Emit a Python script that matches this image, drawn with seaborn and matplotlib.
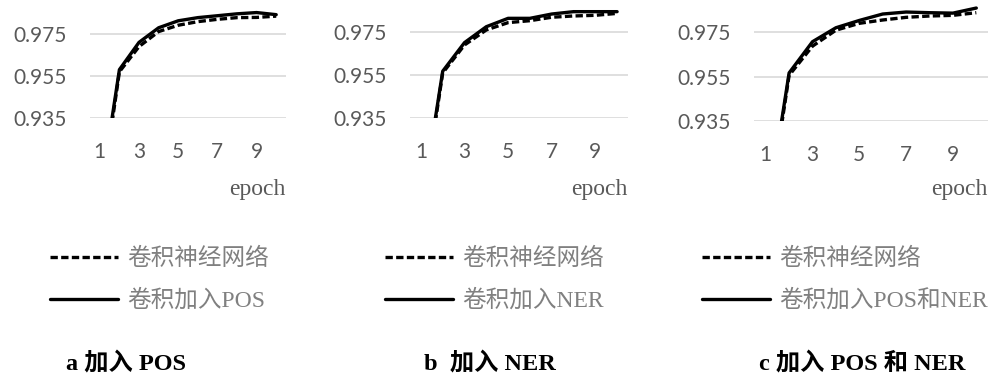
import matplotlib
matplotlib.use("Agg")
import matplotlib.pyplot as plt
import seaborn as sns
import pandas as pd

epochs = [1, 2, 3, 4, 5, 6, 7, 8, 9, 10]

# panel a
cnn_a = [0.893, 0.957, 0.9689, 0.976, 0.979, 0.9807, 0.9818, 0.9826, 0.9827, 0.9833]
pos_a = [0.897, 0.958, 0.9709, 0.9778, 0.9811, 0.9826, 0.9835, 0.9844, 0.985, 0.984]
# panel b
cnn_b = [0.889, 0.9561, 0.9691, 0.9761, 0.9795, 0.9804, 0.982, 0.9826, 0.9829, 0.9838]
ner_b = [0.892, 0.9569, 0.9702, 0.9776, 0.9815, 0.9815, 0.9835, 0.9846, 0.9846, 0.9846]
# panel c
cnn_c = [0.886, 0.9556, 0.9688, 0.976, 0.9791, 0.9806, 0.9818, 0.9824, 0.9827, 0.9839]
both_c = [0.889, 0.9567, 0.9708, 0.9771, 0.9804, 0.9833, 0.9842, 0.9839, 0.9837, 0.986]

cnn_label = "卷积神经网络"
labels = ["卷积加入POS", "卷积加入NER", "卷积加入POS和NER"]
captions = ["a 加入 POS", "b  加入 NER", "c 加入 POS 和 NER"]
yticks = [0.935, 0.955, 0.975]
xticks = [1, 3, 5, 7, 9]

sns.set_theme(style="white")
plt.rcParams["font.family"] = ["Lato", "Noto Sans CJK SC", "DejaVu Sans"]

W, H = 994, 379
fig = plt.figure(figsize=(W / 100, H / 100), dpi=100)

# axes boxes in pixels: left, right, bottom(y of 0.935 line), grid spacing per 0.02
boxes = [(90, 286, 118.3, 42.3), (410, 628, 118.3, 43.0), (754, 988, 121.0, 44.3)]
legend_x = [50, 385, 702]
caption_x = [126, 490, 862]
serif_cjk = ["Liberation Serif", "Noto Sans CJK SC"]

series = [(cnn_a, pos_a), (cnn_b, ner_b), (cnn_c, both_c)]

for i, ((cnn, ext), (l, r, b, sp)) in enumerate(zip(series, boxes)):
    ax = fig.add_axes([l / W, 1 - b / H, (r - l) / W, b / H])
    df = pd.DataFrame({"epoch": epochs * 2, "acc": cnn + ext,
                       "model": [cnn_label] * 10 + [labels[i]] * 10})
    sns.lineplot(data=df, x="epoch", y="acc", style="model", color="black",
                 dashes={cnn_label: (2.2, 1.0), labels[i]: ""},
                 linewidth=2.4, ax=ax, legend=True)
    ax.set_xlim(0.5, 10.5)
    ax.set_ylim(0.935, 0.935 + b / sp * 0.02)
    ax.set_xticks(xticks)
    ax.set_yticks(yticks)
    ax.set_yticklabels(["0.935", "0.955", "0.975"])
    ax.set_xlabel("")
    ax.set_ylabel("")
    ax.grid(axis="y", color="#d9d9d9", linewidth=1.2)
    ax.grid(axis="x", visible=False)
    for s in ax.spines.values():
        s.set_visible(False)
    ax.tick_params(axis="y", length=0, pad=16.5, labelsize=15, labelcolor="#595959")
    ax.tick_params(axis="x", length=0, pad=17, labelsize=15, labelcolor="#595959")

    fig.text(r / W, 1 - 190 / H, "epoch", ha="right", va="center",
             family="Liberation Serif", fontsize=17, color="#595959")

    handles, hl = ax.get_legend_handles_labels()
    leg = ax.legend(handles=handles, labels=hl, loc="upper left",
                    bbox_to_anchor=(legend_x[i] / W, 1 - 248 / H),
                    bbox_transform=fig.transFigure, frameon=False,
                    fontsize=17, labelcolor="#808080",
                    handlelength=2.9, handletextpad=0.35, labelspacing=0.82,
                    borderaxespad=0, borderpad=0)
    for t in leg.get_texts():
        t.set_family(serif_cjk)
        t.set_fontsize(17)

    fig.text(caption_x[i] / W, 1 - 364 / H, captions[i], ha="center", va="center",
             family=serif_cjk, fontsize=17.5, fontweight="bold", color="black")

fig.savefig("out.png", dpi=100)
